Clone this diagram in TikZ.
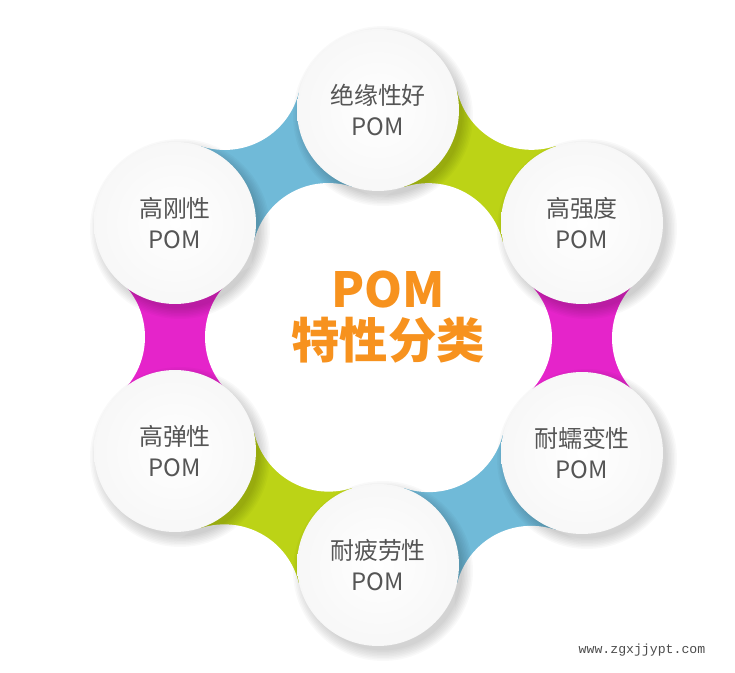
\documentclass[tikz,border=0pt]{standalone}
\usepackage{fontspec}
\newfontfamily\cjk{Noto Sans CJK SC}
\newfontfamily\webfont{Liberation Mono}
\usetikzlibrary{calc}
\definecolor{pomblue}{RGB}{112,186,216}
\definecolor{pomgreen}{RGB}{188,211,22}
\definecolor{pommagenta}{RGB}{229,36,202}
\definecolor{pomorange}{RGB}{247,146,30}
\definecolor{pomgray}{RGB}{85,85,85}

\begin{document}
\begin{tikzpicture}[x=0.02cm, y=0.02cm,
    ball/.style={circle, minimum size=3.24cm, inner sep=0pt, shading=radial,
        inner color=white, outer color=black!3, align=center, text=pomgray,
        font=\cjk\fontsize{13.6}{18}\selectfont}]
    \useasboundingbox (0,0) rectangle (735,673);

    % Tâm sáu hình tròn
    \coordinate (t) at (378,563);
    \coordinate (ur) at (582,450);
    \coordinate (lr) at (582,220);
    \coordinate (b) at (378,108);
    \coordinate (ll) at (175,222);
    \coordinate (ul) at (175,450);

    % Dải màu nối hai hình tròn kề nhau
    \foreach \a/\b/\col in {t/ur/pomgreen, ur/lr/pommagenta, lr/b/pomblue,
                            b/ll/pomgreen, ll/ul/pommagenta, ul/t/pomblue}
        \fill[\col] (\a) -- ($(\a)!0.5!(\b)!2.128cm!90:(\b)$) -- (\b)
            -- ($(\a)!0.5!(\b)!2.128cm!-90:(\b)$) -- cycle;

    % Khoét hai cạnh lõm của mỗi dải
    \foreach \a/\b in {t/ur, ur/lr, lr/b, b/ll, ll/ul, ul/t}
        \fill[white] ($(\a)!0.5!(\b)!2.128cm!90:(\b)$) circle[radius=1.528cm]
            ($(\a)!0.5!(\b)!2.128cm!-90:(\b)$) circle[radius=1.528cm];

    % Bóng mờ dưới các hình tròn
    \foreach \p in {t, ur, lr, b, ll, ul}
        \foreach \k in {1,...,8}
            \fill[black, opacity=0.025] ([shift={(5,-6)}]\p) circle[radius={1.56cm+\k*0.03cm}];

    % Các hình tròn
    \node[ball] (nt) at (t) {绝缘性好\\POM};
    \node[ball] (nur) at (ur) {高强度\\POM};
    \node[ball] (nlr) at (lr) {耐蠕变性\\POM};
    \node[ball] (nb) at (b) {耐疲劳性\\POM};
    \node[ball] (nll) at (ll) {高弹性\\POM};
    \node[ball] (nul) at (ul) {高刚性\\POM};

    % Tiêu đề ở giữa
    \node[align=center, text=pomorange, font=\cjk\bfseries\fontsize{27.5}{29.5}\selectfont]
        (title) at (388,356) {POM\\特性分类};

    \node[text=black!70, font=\webfont\fontsize{7.5}{9}\selectfont] (web) at (642,23) {www.zgxjjypt.com};
\end{tikzpicture}
\end{document}
